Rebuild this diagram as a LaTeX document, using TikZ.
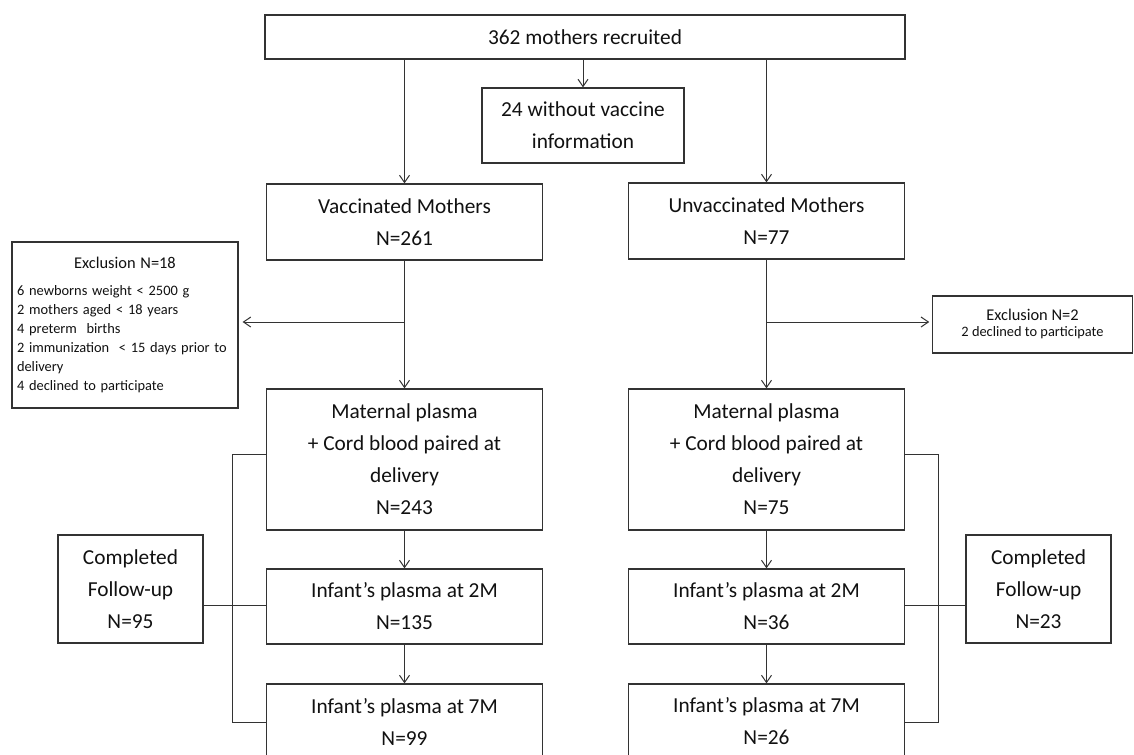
\documentclass[tikz,border=0pt]{standalone}
\usepackage{fontspec}
\setmainfont{Carlito}
\usetikzlibrary{arrows.meta}
\definecolor{lc}{HTML}{333333}
\definecolor{tc}{HTML}{111111}
\newcommand\mainsz{\fontsize{16}{24}\selectfont}
\newcommand\titlesz{\fontsize{12.3}{14.25}\selectfont}
\newcommand\smallsz{\fontsize{10.8}{14.25}\selectfont}
\begin{document}
\begin{tikzpicture}[x=0.75pt,y=-0.75pt,
  box/.style={draw=lc, line width=0.9pt, align=center, font=\mainsz, text=tc, inner sep=2pt},
  colbox/.style={box, minimum width=207pt},
  conn/.style={draw=lc, line width=0.75pt},
  arr/.style={conn, -{Straight Barb[length=5.5pt,width=7.5pt]}}]
\useasboundingbox[fill=white] (0,0) rectangle (1134,754);

% nodes
\node[box, minimum width=480pt, minimum height=33pt] (top) at (585,37) {362 mothers recruited};
\node[box, minimum width=151.5pt, minimum height=56.25pt] (nova) at (583,125.5) {24 without vaccine\\information};
\node[colbox, minimum height=57pt] (vac) at (404.5,222) {Vaccinated Mothers\\N=261};
\node[colbox, minimum height=57pt] (unvac) at (766.5,221) {Unvaccinated Mothers\\N=77};
\node[box, font=\smallsz, align=left, minimum width=169.5pt, minimum height=124.5pt, text width=162pt, inner sep=0pt] (exc1) at (125,325) {%
  \makebox[162pt][c]{\titlesz Exclusion N=18}\\[6pt]
  6 newborns weight < 2500 g\\
  2 mothers aged < 18 years\\
  4 preterm\ \ births\\
  2 immunization\ \ < 15 days prior to\\
  delivery\\
  4 declined to participate};
\node[box, font=\smallsz, minimum width=150pt, minimum height=42.75pt] (exc2) at (1032.5,324.5) {\raisebox{-4pt}{\begin{tabular}{@{}c@{}}{\titlesz Exclusion N=2}\\[-2pt]2 declined to participate\end{tabular}}};
\node[colbox, minimum height=105.75pt] (mat1) at (404.5,459.5) {Maternal plasma\\+ Cord blood paired at\\delivery\\N=243};
\node[colbox, minimum height=105.75pt] (mat2) at (766.5,459.5) {Maternal plasma\\+ Cord blood paired at\\delivery\\N=75};
\node[colbox, minimum height=56.25pt] (i2L) at (404.5,606.5) {Infant’s plasma at 2M\\N=135};
\node[colbox, minimum height=56.25pt] (i2R) at (766.5,606.5) {Infant’s plasma at 2M\\N=36};
\node[colbox, minimum height=56.25pt] (i7L) at (404.5,721.5) {Infant’s plasma at 7M\\N=99};
\node[colbox, minimum height=56.25pt] (i7R) at (766.5,721.5) {Infant’s plasma at 7M\\N=26};
\node[box, minimum width=108.75pt, minimum height=81pt] (cfL) at (130.5,589) {Completed\\Follow-up\\N=95};
\node[box, minimum width=108.75pt, minimum height=81pt] (cfR) at (1038.5,589) {Completed\\Follow-up\\N=23};

% top connectors
\draw[arr] (vac.north |- top.south) -- (vac.north);
\draw[arr] (nova.north |- top.south) -- (nova.north);
\draw[arr] (unvac.north |- top.south) -- (unvac.north);

% exclusion branches
\coordinate (bL) at (404.5,322);
\coordinate (bR) at (766.5,322);
\draw[arr] (vac.south) -- (mat1.north);
\draw[arr, shorten >=3pt] (bL) -- (bL -| exc1.east);
\draw[arr] (unvac.south) -- (mat2.north);
\draw[arr, shorten >=2pt] (bR) -- (bR -| exc2.west);

% column arrows
\draw[arr] (mat1.south) -- (i2L.north);
\draw[arr] (i2L.south) -- (i7L.north);
\draw[arr] (mat2.south) -- (i2R.north);
\draw[arr] (i2R.south) -- (i7R.north);

% follow-up brackets
\coordinate (brL) at (232,0);
\coordinate (brR) at (938,0);
\draw[conn] ([yshift=4pt]mat1.west) -- ([yshift=4pt]mat1.west -| brL) -- ([yshift=-1pt]i7L.west -| brL) -- ([yshift=-1pt]i7L.west);
\draw[conn] ([yshift=-12pt]cfL.east) -- ([yshift=-12pt]cfL.east -| i2L.west);
\draw[conn] ([yshift=4pt]mat2.east) -- ([yshift=4pt]mat2.east -| brR) -- ([yshift=-1pt]i7R.east -| brR) -- ([yshift=-1pt]i7R.east);
\draw[conn] ([yshift=-12pt]cfR.west) -- ([yshift=-12pt]cfR.west -| i2R.east);
\end{tikzpicture}
\end{document}
